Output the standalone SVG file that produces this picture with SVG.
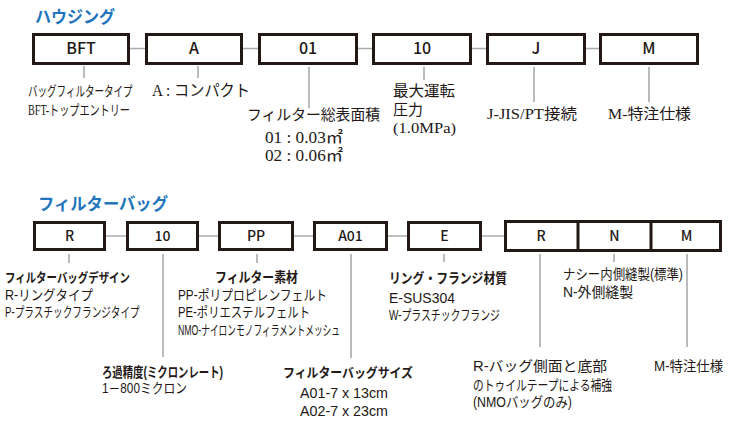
<svg xmlns="http://www.w3.org/2000/svg" width="730" height="440" viewBox="0 0 730 440">
<style>
.box{fill:#fff;stroke:#231815;stroke-width:3}
.bt{font-family:"Noto Sans CJK JP","Liberation Sans",sans-serif;font-weight:500;fill:#231815;text-anchor:middle}
.t1{font-size:16px}
.t2{font-size:14px}
.title{font-family:"Noto Sans CJK JP",sans-serif;font-weight:700;font-size:17px;fill:#2274bd}
.con{stroke:#aaa;stroke-width:1.5;fill:none}
.vl{stroke:#777;stroke-width:1;fill:none}
.lbs{font-family:"Liberation Serif","Noto Sans CJK JP",serif;font-size:15px;fill:#231815}
.lb{font-family:"Liberation Sans","Noto Sans CJK JP",sans-serif;font-size:14px;fill:#231815}
.bd{font-weight:700}
</style>
<text class="title" x="35" y="23" textLength="80" lengthAdjust="spacingAndGlyphs">ハウジング</text>
<text class="title" x="38" y="210" textLength="130" lengthAdjust="spacingAndGlyphs">フィルターバッグ</text>
<g id="connectors">
<path class="con" d="M130 48.5H145M243 48.5H258M358 48.5H372M472 48.5H486M586 48.5H599"/>
<path class="con" d="M106 236H126M199 236H218M294 236H313M388 236H407M482 236H504"/>
<path class="vl" d="M84 66V78M198 66V78M309 67V108M424 67V80M534 67V102M649 67V102"/>
<path class="vl" d="M69 254V263M163 254V357M257 254V263M351 254V358M444 254V262M540 254V347M614 254V262M687 254V347"/>
</g>
<g id="h-bft"><rect class="box" x="33.5" y="34.5" width="95" height="29"/><text class="bt t1" x="81" y="54">BFT</text></g>
<g id="h-a"><rect class="box" x="146.5" y="34.5" width="95" height="29"/><text class="bt t1" x="194" y="54">A</text></g>
<g id="h-01"><rect class="box" x="259.5" y="34.5" width="97" height="29"/><text class="bt t1" x="308" y="54">01</text></g>
<g id="h-10"><rect class="box" x="373.5" y="34.5" width="97" height="29"/><text class="bt t1" x="422" y="54">10</text></g>
<g id="h-j"><rect class="box" x="487.5" y="34.5" width="97" height="29"/><text class="bt t1" x="536" y="54">J</text></g>
<g id="h-m"><rect class="box" x="600.5" y="34.5" width="97" height="29"/><text class="bt t1" x="649" y="54">M</text></g>
<g id="f-r"><rect class="box" x="34.5" y="222.5" width="70" height="27"/><text class="bt t2" x="69.5" y="241">R</text></g>
<g id="f-10"><rect class="box" x="127.5" y="222.5" width="70" height="27"/><text class="bt t2" x="162.5" y="241">10</text></g>
<g id="f-pp"><rect class="box" x="219.5" y="222.5" width="73" height="27"/><text class="bt t2" x="256" y="241">PP</text></g>
<g id="f-a01"><rect class="box" x="314.5" y="222.5" width="72" height="27"/><text class="bt t2" x="350.5" y="241">A01</text></g>
<g id="f-e"><rect class="box" x="408.5" y="222.5" width="72" height="27"/><text class="bt t2" x="444.5" y="241">E</text></g>
<g id="f-rnm"><rect class="box" x="505.5" y="221.5" width="215" height="29"/><path d="M578 221V251M651 221V251" stroke="#231815" stroke-width="3"/>
<text class="bt t2" x="541" y="241">R</text><text class="bt t2" x="614.5" y="241">N</text><text class="bt t2" x="686.5" y="241">M</text></g>
<g id="top-labels">
<text class="lbs" style="font-size:14px" transform="translate(28 96) scale(0.68 1)" x="0" y="0">バッグフィルタータイプ</text>
<text class="lbs" style="font-size:14px" x="28" y="115" textLength="102" lengthAdjust="spacingAndGlyphs">BFT-トップエントリー</text>
<text class="lbs" style="font-size:16px" x="152" y="96" textLength="98" lengthAdjust="spacingAndGlyphs">A : コンパクト</text>
<text class="lbs" x="247" y="120" textLength="133" lengthAdjust="spacingAndGlyphs">フィルター総表面積</text>
<text class="lbs" style="font-size:16px" x="265" y="143" textLength="78" lengthAdjust="spacingAndGlyphs">01 : 0.03㎡</text>
<text class="lbs" style="font-size:16px" x="265" y="161" textLength="78" lengthAdjust="spacingAndGlyphs">02 : 0.06㎡</text>
<text class="lbs" x="393" y="96" textLength="62" lengthAdjust="spacingAndGlyphs">最大運転</text>
<text class="lbs" x="393" y="115">圧力</text>
<text class="lbs" x="393" y="133" textLength="63" lengthAdjust="spacingAndGlyphs">(1.0MPa)</text>
<text class="lbs" x="487" y="119" textLength="90" lengthAdjust="spacingAndGlyphs">J-JIS/PT接続</text>
<text class="lbs" x="608" y="119" textLength="83" lengthAdjust="spacingAndGlyphs">M-特注仕様</text>
</g>
<g id="bottom-labels">
<text class="lb bd" style="font-size:13px" x="5" y="282" textLength="125" lengthAdjust="spacingAndGlyphs">フィルターバッグデザイン</text>
<text class="lb" x="5" y="300" textLength="88" lengthAdjust="spacingAndGlyphs">R-リングタイプ</text>
<text class="lb" transform="translate(5 317) scale(0.69 1)" x="0" y="0">P-プラスチックフランジタイプ</text>
<text class="lb bd" x="215" y="282" textLength="83" lengthAdjust="spacingAndGlyphs">フィルター素材</text>
<text class="lb" x="178" y="300" textLength="149" lengthAdjust="spacingAndGlyphs">PP-ポリプロピレンフェルト</text>
<text class="lb" x="178" y="317" textLength="132" lengthAdjust="spacingAndGlyphs">PE-ポリエステルフェルト</text>
<text class="lb" x="178" y="335" textLength="162" lengthAdjust="spacingAndGlyphs">NMO-ナイロンモノフィラメントメッシュ</text>
<text class="lb bd" x="102" y="377" textLength="121" lengthAdjust="spacingAndGlyphs">ろ過精度(ミクロンレート)</text>
<text class="lb" x="102" y="393" textLength="85" lengthAdjust="spacingAndGlyphs">1－800ミクロン</text>
<text class="lb bd" style="font-size:13px" x="283" y="377" textLength="130" lengthAdjust="spacingAndGlyphs">フィルターバッグサイズ</text>
<text class="lb" x="300" y="398" textLength="88" lengthAdjust="spacingAndGlyphs">A01-7 x 13cm</text>
<text class="lb" x="300" y="416" textLength="88" lengthAdjust="spacingAndGlyphs">A02-7 x 23cm</text>
<text class="lb bd" x="389" y="283" textLength="118" lengthAdjust="spacingAndGlyphs">リング・フランジ材質</text>
<text class="lb" x="389" y="303" textLength="66" lengthAdjust="spacingAndGlyphs">E-SUS304</text>
<text class="lb" x="389" y="320" textLength="111" lengthAdjust="spacingAndGlyphs">W-プラスチックフランジ</text>
<text class="lb" x="563" y="279" textLength="120" lengthAdjust="spacingAndGlyphs">ナシー内側縫製(標準)</text>
<text class="lb" x="563" y="297" textLength="70" lengthAdjust="spacingAndGlyphs">N-外側縫製</text>
<text class="lb" x="473" y="371" textLength="134" lengthAdjust="spacingAndGlyphs">R-バッグ側面と底部</text>
<text class="lb" x="473" y="390" textLength="139" lengthAdjust="spacingAndGlyphs">のトゥイルテープによる補強</text>
<text class="lb" x="473" y="407" textLength="99" lengthAdjust="spacingAndGlyphs">(NMOバッグのみ)</text>
<text class="lb" x="654" y="371" textLength="69" lengthAdjust="spacingAndGlyphs">M-特注仕様</text>
</g>
</svg>
